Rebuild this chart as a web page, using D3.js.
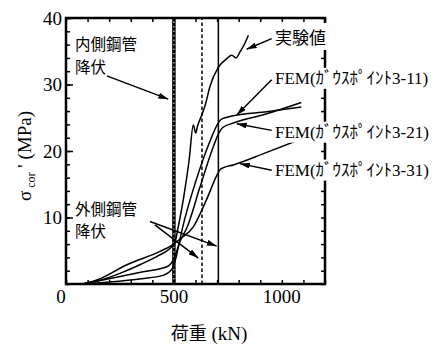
<!DOCTYPE html>
<html>
<head>
    <meta charset="utf-8">
    <title>荷重 - σcor'</title>
    <style>
        body { margin: 0; background: #fff; }
        .curve { fill: none; stroke: #000; stroke-width: 1.5px; }
        .tick line { stroke: #000; stroke-width: 1.5px; }
        .arrow { stroke: #000; stroke-width: 1.5px; }
    </style>
    <script src="https://d3js.org/d3.v7.min.js"></script>
</head>
<body>
    <div id="chart"></div>
    <script>
        // values (load kN, stress MPa)
        const expData = [[75,0],[150,0.5],[250,1.6],[350,3.0],[430,4.3],[480,5.3],[505,6.3],[520,8.6],[545,13],[570,18.5],[590,23.9],[601,22.7],[609,23.7],[629,25.4],[645,26.9],[667,29.7],[704,32.5],[745,33.9],[768,34.4],[788,34.0],[806,34.9],[829,36.2],[845,37.4]];
        const fem311 = [[75,0],[200,0.3],[350,0.8],[450,1.3],[490,2.2],[510,4],[525,6.3],[541,8.6],[600,15.3],[660,20.9],[700,23.9],[720,24.8],[775,25.3],[930,25.9],[1090,26.6]];
        const fem321 = [[75,0],[200,0.8],[357,1.85],[467,2.6],[497,3.6],[530,6.5],[562,8.6],[620,14.5],[680,20.4],[708,22.7],[725,23.5],[775,24.2],[930,25.6],[1090,27.3]];
        const fem331 = [[75,0],[150,0.7],[282,2.9],[436,4.9],[490,5.8],[530,6.8],[590,8.6],[650,12.6],[700,16.4],[714,17.2],[730,17.5],[775,17.9],[930,19.8],[1090,21.8]];

        const xTickLabels = [0, 500, 1000];
        const yTickLabels = [10, 20, 30, 40];
        const yieldLoads = [500, 630, 706];   // 内側 / 点線 / 外側

        const SERIF = "'Liberation Serif', 'Times New Roman', serif";
        const JP = "'Noto Sans CJK JP', sans-serif";

        const width = 446, height = 347;
        const margin = {top: 18, right: 121, bottom: 63, left: 66};

        const x = d3.scaleLinear().domain([0, 1200]).range([margin.left, width - margin.right]);
        const y = d3.scaleLinear().domain([0, 40]).range([height - margin.bottom, margin.top]);

        const svg = d3.select("#chart").append("svg")
            .attr("width", width)
            .attr("height", height);

        svg.append("defs").append("marker")
            .attr("id", "head")
            .attr("viewBox", "0 0 10 6")
            .attr("refX", 10).attr("refY", 3)
            .attr("markerWidth", 10).attr("markerHeight", 6)
            .attr("markerUnits", "userSpaceOnUse")
            .attr("orient", "auto")
            .append("path").attr("d", "M0,0L10,3L0,6Z").attr("fill", "#000");

        // ticks, all pointing inward
        const minorY = d3.range(0, 41, 2), minorX = d3.range(0, 1201, 100);
        const noLabel = () => "";
        svg.append("g").attr("transform", `translate(${x(0)},0)`)
            .call(d3.axisLeft(y).tickValues(minorY).tickSize(-4).tickFormat(noLabel));
        svg.append("g").attr("transform", `translate(${x(0)},0)`)
            .call(d3.axisLeft(y).tickValues(yTickLabels).tickSize(-7).tickFormat(noLabel));
        svg.append("g").attr("transform", `translate(${x(1200)},0)`)
            .call(d3.axisRight(y).tickValues(minorY).tickSize(-4).tickFormat(noLabel));
        svg.append("g").attr("transform", `translate(0,${y(0)})`)
            .call(d3.axisBottom(x).tickValues(minorX).tickSize(-4).tickFormat(noLabel));
        svg.append("g").attr("transform", `translate(0,${y(40)})`)
            .call(d3.axisTop(x).tickValues(minorX).tickSize(-4).tickFormat(noLabel));
        svg.selectAll(".domain").remove();

        // yield lines
        svg.append("line")
            .attr("x1", x(yieldLoads[0])).attr("x2", x(yieldLoads[0]))
            .attr("y1", y(0)).attr("y2", y(40))
            .attr("stroke", "#000").attr("stroke-width", 3.5);
        svg.append("line")
            .attr("x1", x(yieldLoads[0])).attr("x2", x(yieldLoads[0]))
            .attr("y1", y(0)).attr("y2", y(40))
            .attr("stroke", "#fff").attr("stroke-width", 1).attr("stroke-dasharray", "1.5,3");
        svg.append("line")
            .attr("x1", x(yieldLoads[1])).attr("x2", x(yieldLoads[1]))
            .attr("y1", y(0)).attr("y2", y(40))
            .attr("stroke", "#000").attr("stroke-width", 1.5).attr("stroke-dasharray", "3.5,2.5");
        svg.append("line")
            .attr("x1", x(yieldLoads[2])).attr("x2", x(yieldLoads[2]))
            .attr("y1", y(0)).attr("y2", y(40))
            .attr("stroke", "#000").attr("stroke-width", 1.5);

        // curves
        const line = d3.line().x(d => x(d[0])).y(d => y(d[1])).curve(d3.curveMonotoneX);
        [expData, fem311, fem321, fem331].forEach(s => {
            svg.append("path").attr("class", "curve").attr("d", line(s));
        });

        // frame
        svg.append("rect")
            .attr("x", x(0)).attr("y", y(40))
            .attr("width", x(1200) - x(0)).attr("height", y(0) - y(40))
            .attr("fill", "none").attr("stroke", "#000").attr("stroke-width", 2.5);

        // tick labels
        svg.selectAll(".ylab").data(yTickLabels).enter().append("text")
            .style("font-family", SERIF).style("font-size", "19px")
            .attr("x", x(0) - 4).attr("y", d => y(d) + 6.5)
            .attr("text-anchor", "end")
            .text(d => d);
        svg.selectAll(".xlab").data(xTickLabels).enter().append("text")
            .style("font-family", SERIF).style("font-size", "19px")
            .attr("x", d => d === 0 ? x(d) - 5 : x(d)).attr("y", y(0) + 19)
            .attr("text-anchor", "middle")
            .text(d => d);

        // axis titles
        const xt = svg.append("text")
            .style("font-family", SERIF).style("font-size", "19px")
            .attr("x", 209).attr("y", 340).attr("text-anchor", "middle");
        xt.append("tspan").style("font-family", JP).style("font-size", "18px").text("荷重");
        xt.append("tspan").style("font-family", SERIF).text(" (kN)");

        const yt = svg.append("text")
            .style("font-family", SERIF).style("font-size", "19px")
            .attr("transform", "translate(31,156) rotate(-90)")
            .attr("text-anchor", "middle");
        yt.append("tspan").text("σ");
        yt.append("tspan").attr("dy", 4).style("font-size", "12px").text(" cor");
        yt.append("tspan").attr("dy", -4).text(" ' (MPa)");

        // left annotations (two lines in one text)
        const leftNotes = [
            {lines: ["内側鋼管", "降伏"], at: [42, 35.2], arrows: [[[189, 31.3], [474, 27.8]]]},
            {lines: ["外側鋼管", "降伏"], at: [42, 10.4], arrows: [[[389, 9.4], [698, 5.7]], [[412, 8.9], [613, 3.9]]]}
        ];
        leftNotes.forEach(n => {
            const t = svg.append("text")
                .style("font-family", JP).style("font-size", "15.5px")
                .attr("x", x(n.at[0])).attr("y", y(n.at[1]));
            n.lines.forEach((s, i) => {
                t.append("tspan").attr("x", x(n.at[0])).attr("dy", i === 0 ? 0 : 22.6).text(s);
            });
            n.arrows.forEach(a => {
                svg.append("line").attr("class", "arrow")
                    .attr("x1", x(a[0][0])).attr("y1", y(a[0][1]))
                    .attr("x2", x(a[1][0])).attr("y2", y(a[1][1]))
                    .attr("marker-end", "url(#head)");
            });
        });

        // right labels with white boxes over the frame
        const FEMFONT = "'Liberation Serif', 'Noto Sans CJK JP', serif";
        const rightNotes = [
            {text: "実験値", font: JP, at: [968, 36.1], arrow: [[953, 36.9], [837, 35.3]]},
            {text: "FEM(ｶﾞｳｽﾎﾟｲﾝﾄ3-11)", font: FEMFONT, at: [968, 30.1], arrow: [[953, 30.7], [791, 25.4]]},
            {text: "FEM(ｶﾞｳｽﾎﾟｲﾝﾄ3-21)", font: FEMFONT, at: [968, 22.0], arrow: [[953, 23.1], [791, 24.1]]},
            {text: "FEM(ｶﾞｳｽﾎﾟｲﾝﾄ3-31)", font: FEMFONT, at: [968, 16.3], arrow: [[953, 17.1], [806, 18.1]]}
        ];
        rightNotes.forEach(n => {
            const g = svg.append("g");
            const t = g.append("text")
                .style("font-family", n.font).style("font-size", "17px")
                .attr("x", x(n.at[0])).attr("y", y(n.at[1]))
                .text(n.text);
            const b = t.node().getBBox();
            g.insert("rect", "text")
                .attr("x", b.x - 1).attr("y", b.y - 1)
                .attr("width", b.width + 2).attr("height", b.height + 2)
                .attr("fill", "#fff");
            svg.append("line").attr("class", "arrow")
                .attr("x1", x(n.arrow[0][0])).attr("y1", y(n.arrow[0][1]))
                .attr("x2", x(n.arrow[1][0])).attr("y2", y(n.arrow[1][1]))
                .attr("marker-end", "url(#head)");
        });
    </script>
</body>
</html>
